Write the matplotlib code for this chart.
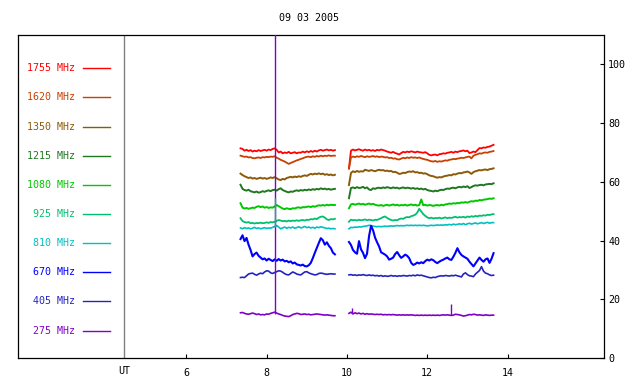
import numpy as np
import matplotlib
matplotlib.use("Agg")
import matplotlib.pyplot as plt

plt.rcParams['font.family'] = ['DejaVu Sans Mono']
FS = 7.2

title = "09 03 2005"
freqs = ["1755 MHz", "1620 MHz", "1350 MHz", "1215 MHz", "1080 MHz",
         "925 MHz", "810 MHz", "670 MHz", "405 MHz", "275 MHz"]
colors = ["#ff0000", "#c84000", "#8c5a08", "#207820", "#00c800",
          "#00c070", "#00c0c0", "#0000ff", "#2424c0", "#8000c8"]
label_y = [98.7, 88.8, 78.8, 68.9, 59.0, 49.1, 39.2, 29.3, 19.4, 9.3]

x_ticks = [6, 8, 10, 12, 14]
x_ticklabels = ["6", "8", "10", "12", "14"]
y_ticks = [0, 20, 40, 60, 80, 100]
ut_time = 4.457

seg1_start = 7.35
seg2_start = 10.05
step = 0.05

s1 = {
"1755": [71.4,71.2,70.6,70.9,70.5,70.8,70.3,70.6,70.4,70.8,70.5,70.7,70.9,70.6,71.0,70.8,71.2,71.4,70.9,70.0,
         70.3,69.7,70.0,69.8,70.2,69.7,69.9,70.1,69.7,70.0,69.9,70.3,70.0,70.4,70.1,70.5,70.2,70.6,70.3,70.7,
         70.9,70.6,70.8,71.0,70.7,70.9,70.6,70.8],
"1620": [68.9,68.7,68.5,68.6,68.3,68.4,68.1,68.0,68.2,68.3,68.1,68.4,68.3,68.5,68.4,68.6,68.5,68.7,68.2,67.9,
         67.5,67.2,66.9,66.5,66.1,66.4,66.7,67.0,67.3,67.5,67.8,68.0,68.3,68.5,68.6,68.4,68.7,68.5,68.8,68.6,
         68.9,68.7,68.9,68.8,69.0,68.8,68.9,68.9],
"1350": [62.8,62.3,61.9,61.6,61.3,61.5,61.1,61.3,61.0,61.2,61.4,61.1,61.3,61.0,61.2,61.5,61.3,61.6,61.2,60.8,
         60.6,61.0,60.8,61.3,61.5,61.7,61.5,61.8,61.6,61.9,61.7,62.0,62.2,62.0,62.4,62.7,62.5,62.8,62.6,62.9,
         62.6,62.8,62.4,62.6,62.3,62.5,62.2,62.4],
"1215": [59.0,57.6,57.2,57.0,57.3,56.8,56.6,56.4,56.7,56.3,56.5,56.8,56.6,56.9,57.1,56.8,57.2,57.3,57.0,57.5,
         57.8,57.2,56.9,56.6,56.4,56.7,56.6,56.9,57.1,56.9,57.2,57.0,57.3,57.1,57.4,57.2,57.5,57.3,57.6,57.4,
         57.8,57.5,57.7,57.4,57.6,57.3,57.5,57.6],
"1080": [52.7,51.2,50.9,51.1,50.8,51.0,51.2,51.1,51.5,51.7,51.4,51.6,51.2,51.4,51.1,51.3,51.2,51.6,52.1,51.7,
         51.3,50.9,50.7,51.0,50.8,50.7,51.0,50.9,51.2,51.3,51.1,51.4,51.3,51.5,51.6,51.4,51.7,51.5,51.8,52.0,
         51.9,52.1,51.9,52.2,52.0,52.2,52.1,52.1],
"925":  [47.6,46.6,46.3,46.1,46.3,45.9,46.0,45.8,46.0,45.9,46.1,45.9,46.0,46.2,46.0,46.3,46.2,46.4,46.7,47.0,
         46.8,46.6,46.7,46.5,46.8,46.6,46.8,46.7,46.9,46.7,46.9,47.0,46.8,47.1,47.0,47.3,47.2,47.5,47.3,47.8,
         48.1,48.2,47.8,47.2,47.0,47.3,47.2,47.4],
"810":  [44.3,44.0,44.4,44.1,44.3,44.0,44.2,44.5,44.1,44.3,44.0,44.2,44.4,44.1,44.3,44.2,44.5,44.8,45.1,44.6,
         44.0,44.3,44.6,44.2,44.5,44.3,44.6,44.2,44.4,44.7,44.3,44.5,44.8,44.4,44.6,44.3,44.5,44.2,44.6,44.4,
         44.7,44.5,44.3,44.1,44.2,44.0,44.1,44.0],
"670":  [40.5,41.8,39.8,40.9,38.6,36.8,34.6,35.4,35.9,34.8,34.2,33.6,33.9,33.2,33.8,33.4,33.0,33.6,33.1,33.7,
         33.2,33.5,32.9,33.1,32.6,32.9,32.2,32.5,31.9,31.7,31.5,31.8,31.3,31.2,31.6,32.4,34.0,35.8,37.5,39.2,
         40.8,40.1,38.6,39.4,38.2,37.4,35.9,35.3],
"405":  [27.4,27.5,27.4,28.0,28.6,28.8,28.9,28.5,28.2,28.6,28.9,28.7,29.3,29.7,29.6,29.0,28.8,29.1,29.4,29.7,
         29.6,29.2,28.7,28.4,28.3,28.8,29.3,29.0,28.6,28.4,28.3,28.8,29.3,29.4,29.0,28.7,28.5,28.3,28.4,28.8,
         28.9,28.8,28.6,28.5,28.6,28.7,28.6,28.6],
"275":  [15.4,15.5,15.2,15.0,14.9,15.1,15.3,15.1,14.8,15.0,14.7,14.8,14.7,15.0,14.9,15.2,15.4,15.6,15.3,15.0,
         14.8,14.5,14.3,14.2,14.1,14.4,14.8,15.0,15.2,15.1,14.8,14.9,15.0,14.8,14.9,14.7,14.8,14.9,15.0,14.9,
         14.8,14.7,14.6,14.7,14.6,14.5,14.4,14.4],
}

s2 = {
"1755": [64.6,70.6,71.0,70.7,70.9,71.1,70.8,70.6,71.0,70.7,70.9,70.6,70.8,70.5,70.9,70.7,71.0,70.8,70.6,70.3,
         70.1,69.9,70.2,69.8,69.6,69.3,69.8,70.2,70.0,70.3,70.1,70.4,70.2,70.0,70.3,70.1,70.0,69.9,70.1,69.7,
         69.2,69.0,69.2,69.3,69.0,69.4,69.5,69.7,69.6,69.9,70.0,70.2,69.9,70.3,70.1,70.4,70.5,70.7,70.4,70.6,
         69.8,70.0,70.3,70.1,70.8,71.5,71.4,71.7,71.6,71.9,72.0,72.3,72.6],
"1620": [64.5,68.3,68.6,68.4,68.7,68.5,68.8,68.6,68.4,68.7,68.5,68.6,68.8,68.5,68.7,68.4,68.6,68.5,68.3,68.4,
         68.1,68.2,67.9,68.0,67.7,67.6,67.9,68.2,68.0,68.3,68.1,68.4,68.2,68.3,68.1,68.3,68.0,67.8,67.6,67.5,
         67.2,67.0,66.9,67.1,66.8,67.0,66.9,67.1,67.3,67.2,67.5,67.6,67.8,67.7,67.9,68.0,68.2,68.1,68.3,68.5,
         68.6,68.0,68.9,69.2,69.4,69.7,69.6,69.9,70.0,69.9,70.2,70.3,70.5],
"1350": [58.9,63.0,63.6,63.3,63.7,63.4,63.6,63.5,64.1,63.9,63.7,64.0,63.8,63.6,63.9,64.1,63.9,64.0,63.7,63.8,
         63.6,63.7,63.3,63.4,63.1,62.7,62.8,63.1,63.0,63.3,63.5,63.4,63.6,63.2,63.3,63.0,63.1,62.8,62.9,62.6,
         62.2,62.0,61.9,61.6,61.4,61.6,61.5,61.8,62.0,62.1,62.3,62.2,62.6,62.5,62.8,63.0,62.9,63.2,63.3,63.5,
         63.2,62.7,63.3,63.6,63.8,64.0,63.9,64.1,64.2,64.0,64.3,64.4,64.6],
"1215": [54.4,57.9,58.1,57.8,58.2,57.9,58.0,58.3,57.8,58.1,57.4,57.2,57.8,57.6,57.9,58.0,57.8,58.1,57.9,58.2,
         58.0,57.8,58.1,57.9,58.0,57.7,57.9,58.1,57.8,58.0,57.9,57.7,57.9,57.6,57.8,57.5,57.7,57.4,57.6,57.2,
         57.0,56.9,56.7,57.0,56.8,57.1,57.3,57.2,57.5,57.7,57.6,57.9,58.0,57.8,58.1,58.3,58.1,58.4,58.2,58.5,
         57.9,58.2,58.6,58.8,58.7,58.9,59.0,58.8,59.1,59.2,59.3,59.2,59.5],
"1080": [51.0,52.3,52.5,52.2,52.4,52.6,52.3,52.5,52.2,52.4,52.6,52.3,52.5,52.2,52.0,51.9,52.1,51.8,52.0,52.2,
         51.9,52.1,52.3,52.0,52.2,51.9,52.1,52.0,52.2,51.9,52.1,52.3,52.0,52.2,51.9,52.1,54.0,52.0,52.2,51.9,
         52.1,52.0,51.8,52.0,52.1,51.9,52.2,52.0,52.3,52.4,52.6,52.5,52.7,52.6,52.8,52.7,53.0,52.9,53.1,52.9,
         53.2,53.4,53.3,53.6,53.5,53.8,53.7,53.9,54.0,54.1,54.3,54.2,54.4],
"925":  [46.4,47.1,46.9,47.0,46.8,47.1,46.9,47.0,47.2,46.9,47.1,47.0,46.8,47.1,47.0,47.3,47.6,48.0,48.2,47.7,
         47.3,47.0,46.8,47.0,46.9,47.3,47.5,47.4,47.8,48.0,47.9,48.3,48.5,48.8,49.5,50.8,49.9,49.0,48.4,47.9,
         47.6,47.8,47.5,47.7,47.6,47.8,47.5,47.7,47.9,47.6,47.8,47.7,47.9,48.1,47.8,48.0,47.9,48.1,47.8,48.2,
         48.0,48.3,48.1,48.4,48.2,48.5,48.4,48.6,48.5,48.8,48.7,48.9,49.0],
"810":  [44.0,44.5,44.4,44.6,44.5,44.7,44.6,44.8,44.9,45.0,45.2,45.1,44.9,44.8,44.7,44.8,44.7,44.8,44.9,44.8,
         44.9,45.0,44.9,45.0,45.1,45.0,45.1,45.0,45.1,45.2,45.1,45.2,45.1,45.2,45.1,45.2,45.1,45.2,45.1,45.0,
         45.1,45.2,45.1,45.2,45.3,45.2,45.3,45.2,45.4,45.3,45.5,45.3,45.6,45.4,45.5,45.7,45.5,45.8,45.4,45.7,
         45.9,45.6,45.8,46.0,45.7,45.9,46.1,45.8,46.0,46.2,45.9,46.1,46.1],
"670":  [39.5,38.5,36.8,36.0,35.5,39.8,37.0,35.8,34.0,35.5,41.5,45.0,43.5,41.0,39.4,38.0,36.0,35.6,35.2,34.6,
         33.5,33.8,34.2,35.4,36.1,35.0,34.1,34.6,35.2,34.8,34.0,32.4,31.7,32.0,32.5,32.2,32.6,32.3,33.0,33.5,
         33.2,33.6,33.3,32.7,32.3,32.8,33.2,33.5,33.9,34.2,33.6,33.4,34.5,35.8,37.4,36.0,35.1,34.6,34.2,33.8,
         32.8,32.0,31.2,32.2,33.2,34.2,33.4,32.8,33.6,33.9,32.4,33.8,35.7],
"405":  [28.3,28.4,28.2,28.3,28.1,28.3,28.2,28.4,28.2,28.1,28.3,28.1,28.2,28.0,28.1,27.9,28.1,27.8,28.0,27.8,
         27.9,28.1,27.9,28.0,27.8,28.0,27.9,28.1,28.0,27.9,28.1,28.0,28.2,28.0,28.3,28.1,28.2,28.0,27.8,27.6,
         27.4,27.3,27.5,27.4,27.7,27.9,28.0,27.9,28.1,28.0,27.9,28.1,28.0,28.2,28.0,27.8,27.6,28.6,29.0,28.4,
         28.0,27.9,27.7,28.6,29.2,29.8,31.1,29.6,28.9,28.7,28.3,28.1,28.2],
"275":  [15.2,15.6,15.0,15.4,15.1,15.3,15.0,15.2,14.9,15.1,14.9,15.0,14.9,14.8,14.9,14.8,14.9,14.7,14.8,14.7,
         14.8,14.7,14.8,14.7,14.6,14.7,14.6,14.7,14.6,14.7,14.6,14.7,14.6,14.5,14.6,14.5,14.6,14.5,14.6,14.5,
         14.6,14.5,14.6,14.5,14.6,14.5,14.6,14.7,14.6,14.7,14.6,14.5,14.6,14.9,14.8,14.7,14.5,14.3,14.4,14.6,
         14.8,14.7,14.9,14.8,14.6,14.7,14.6,14.5,14.7,14.6,14.5,14.6,14.6],
}

# isolated spikes (time, bottom, top)
spike_275_t = [8.207, 10.13, 12.59]
spike_275_lo = [15.0, 15.2, 14.6]
spike_275_hi = [111.0, 16.9, 18.3]
spike_925_t = [8.207]
spike_925_lo = [44.5]
spike_925_hi = [54.5]

fig = plt.figure(figsize=(6.4, 3.84), dpi=100)
ax = fig.add_axes([18/640, 26/384, 586/640, 323/384])
ax.set_xlim(1.81, 16.40)
ax.set_ylim(0, 110.0)

keys = ["1755", "1620", "1350", "1215", "1080", "925", "810", "670", "405", "275"]
widths = [1.3, 1.3, 1.4, 1.4, 1.4, 1.3, 1.2, 1.5, 1.2, 1.2]
for k, c, w in zip(keys, colors, widths):
    v1 = s1[k]
    v2 = s2[k]
    t1 = seg1_start + step * np.arange(len(v1))
    t2 = seg2_start + step * np.arange(len(v2))
    ax.plot(t1, v1, color=c, lw=w)
    ax.plot(t2, v2, color=c, lw=w)

ax.vlines(spike_275_t, spike_275_lo, spike_275_hi, color=colors[9], lw=1.0, zorder=5)
ax.vlines(spike_925_t, spike_925_lo, spike_925_hi, color=colors[5], lw=1.0, zorder=6)

# legend-like labels inside the frame
for name, c, y in zip(freqs, colors, label_y):
    ax.text(3.23, y, name, color=c, fontsize=FS, ha='right', va='center')
    ax.plot([3.43, 4.10], [y, y], color=c, lw=1.0)

ax.axvline(ut_time, color='#808080', lw=1.0)

for s in ax.spines.values():
    s.set_color('black')
    s.set_linewidth(0.9)

ax.set_xticks(x_ticks)
ax.set_xticklabels(x_ticklabels)
ax.tick_params(axis='x', direction='in', length=3, width=0.8, labelsize=FS, pad=7,
               top=False, bottom=True)
ax.yaxis.tick_right()
ax.set_yticks(y_ticks)
ax.tick_params(axis='y', direction='in', length=3, width=0.8, labelsize=FS, pad=3,
               left=False, right=True)
ax.annotate("UT", xy=(ut_time, 0), xycoords=('data', 'axes fraction'),
            xytext=(0, -6), textcoords='offset points', ha='center', va='top',
            fontsize=FS)

fig.text(309/640, 1 - 18/384, title, ha='center', va='center', fontsize=FS)

fig.savefig("out.png", dpi=100)
